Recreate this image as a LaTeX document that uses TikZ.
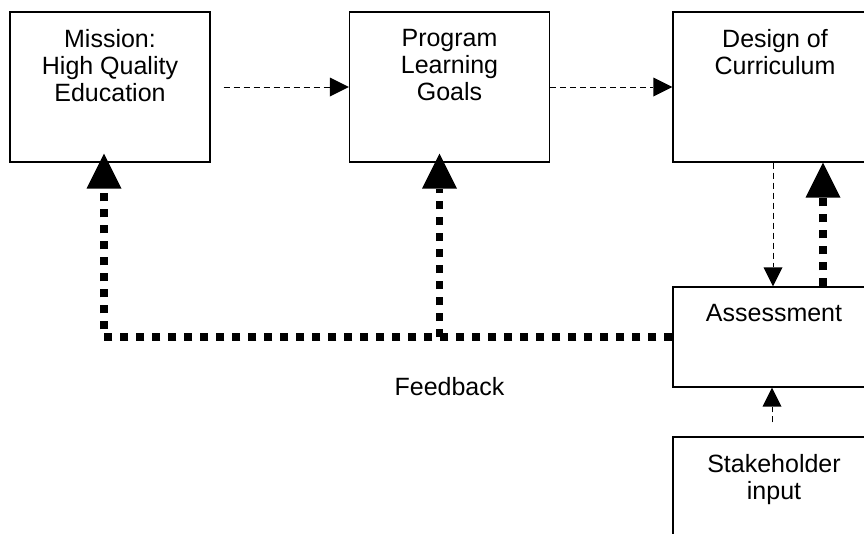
\documentclass[tikz,border=0pt]{standalone}
\usepackage{fontspec}
\setmainfont{Liberation Sans}
\usetikzlibrary{arrows.meta}
\tikzset{
  block/.style={draw, line width=1.3pt, minimum width=200pt, minimum height=150pt, inner sep=0pt},
  blocktext/.style={anchor=north, align=center, inner sep=0pt, font=\fontsize{25}{27}\selectfont},
  flow/.style={line width=1pt, dash pattern=on 6pt off 4pt, -{Triangle[width=19pt,length=19pt,line width=0pt]}},
  feedback/.style={line width=7.5pt, dash pattern=on 8pt off 8pt, -{Triangle[width=35pt,length=35pt,line width=0pt]}}
}
\begin{document}
\begin{tikzpicture}[x=1pt, y=-1pt]
      \path[use as bounding box, clip] (0,0) rectangle (864,533);
      \node[block] (mission) at (110,87) {};
      \node[block] (program) at (449.5,87) {};
      \node[block, minimum width=204pt] (design) at (775,87) {};
      \node[block, minimum width=202pt, minimum height=100pt] (assess) at (774,337) {};
      \node[block, minimum width=202pt] (stake) at (774,512) {};
      \node[blocktext] (missiontext) at ([yshift=-18pt]mission.north) {Mission:\\High Quality\\Education};
      \node[blocktext] (programtext) at ([yshift=-18pt]program.north) {Program\\Learning\\Goals};
      \node[blocktext] (designtext) at ([yshift=-18pt]design.north) {Design of\\Curriculum};
      \node[blocktext] (assesstext) at ([yshift=-18pt]assess.north) {Assessment};
      \node[blocktext] (staketext) at ([yshift=-18pt]stake.north) {Stakeholder\\input};
      \node[blocktext] (fblabel) at (449.5,377) {Feedback};
      \coordinate (fbjoin) at ([xshift=-10pt]program.south |- assess.west);
      \begin{scope}
        \draw[flow, shorten <=13pt] (mission) -- (program);
        \draw[flow] (program) -- (design);
        \draw[flow] ([xshift=-2pt]design.south) -- ([xshift=-2pt]design.south |- assess.north);
        \draw[flow, shorten <=14pt] ([xshift=-2pt]stake.north) -- ([xshift=-2pt]assess.south);
        \draw[feedback] ([xshift=49pt]assess.north) -- ([xshift=49pt]assess.north |- design.south);
        \draw[feedback, shorten >=-9pt] (assess.west) -| ([xshift=-6pt]mission.south);
        \draw[feedback, shorten >=-9pt] (fbjoin) -- ([xshift=-10pt]program.south);
      \end{scope}
    \end{tikzpicture}
\end{document}
